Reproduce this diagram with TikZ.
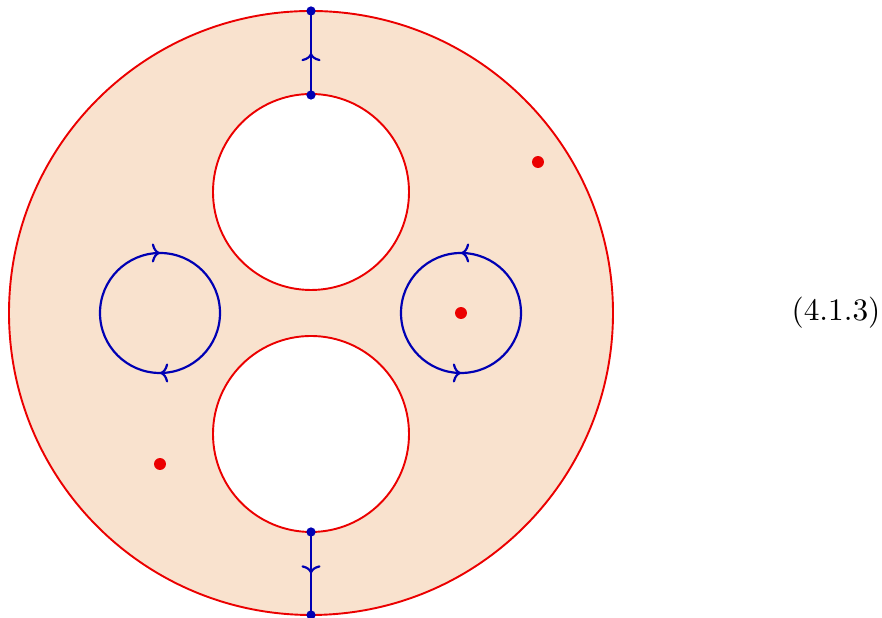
\documentclass[tikz,border=0pt]{standalone}
\usetikzlibrary{arrows.meta,decorations.markings}
\definecolor{peach}{RGB}{249,226,206}
\definecolor{dblue}{RGB}{0,0,180}
\definecolor{myred}{RGB}{235,0,0}
\tikzset{
  redline/.style={draw=myred,line width=0.7pt},
  blueline/.style={draw=dblue,line width=0.8pt},
  bdot/.style={circle,fill=dblue,inner sep=0pt,minimum size=3.4pt},
  rdot/.style={circle,fill=myred,inner sep=0pt,minimum size=4.4pt},
  midfwd/.style={decoration={markings,mark=at position 0.5 with {\arrow{To[length=3pt,width=7pt]}}},postaction={decorate}},
  ccw/.style={decoration={markings,
     mark=at position 0.25 with {\arrow{To[length=3pt,width=7pt]}},
     mark=at position 0.75 with {\arrow{To[length=3pt,width=7pt]}}},postaction={decorate}},
  cw/.style={decoration={markings,
     mark=at position 0.25 with {\arrowreversed{To[length=3pt,width=7pt]}},
     mark=at position 0.75 with {\arrowreversed{To[length=3pt,width=7pt]}}},postaction={decorate}}
}
\begin{document}
\begin{tikzpicture}[x=0.3675pt,y=0.3675pt]
\useasboundingbox (0,0) rectangle (882,618);
% surface with two holes
\path[fill=peach,even odd rule] (311,305) circle (302) (311,426) circle (98) (311,184) circle (98);
\draw[redline] (311,305) circle (302);
\draw[redline] (311,426) circle (98);
\draw[redline] (311,184) circle (98);
% blue loops
\draw[blueline,cw] (160,305) circle (60);
\draw[blueline,ccw] (461,305) circle (60);
% vertical arcs
\coordinate (t1) at (311,607);
\coordinate (t2) at (311,523);
\coordinate (b1) at (311,86);
\coordinate (b2) at (311,3);
\draw[blueline,midfwd] (t2) -- (t1);
\draw[blueline,midfwd] (b1) -- (b2);
\node[bdot] (dt1) at (t1) {};
\node[bdot] (dt2) at (t2) {};
\node[bdot] (db1) at (b1) {};
\node[bdot] (db2) at (b2) {};
% red points
\node[rdot] (p1) at (538,456) {};
\node[rdot] (p2) at (461,305) {};
\node[rdot] (p3) at (160,154) {};
% equation number
\node[scale=1.15] (eq) at (836,305) {(4.1.3)};
\end{tikzpicture}
\end{document}
